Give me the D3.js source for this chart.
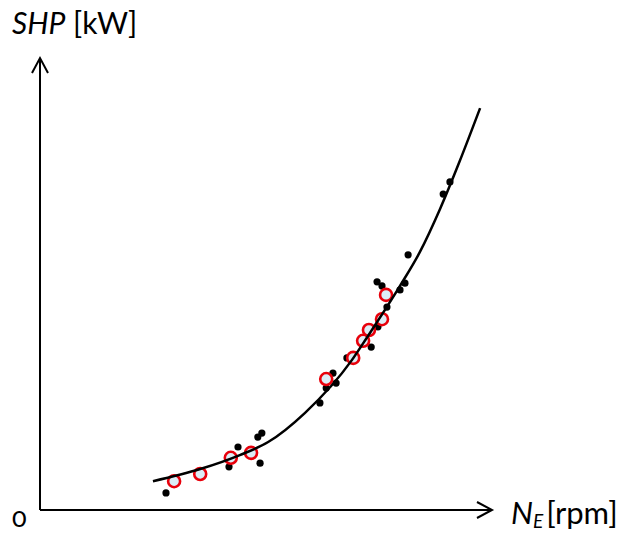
<!DOCTYPE html>
<html>
<head>
<meta charset="utf-8">
<script src="https://cdn.jsdelivr.net/npm/d3@7"></script>
<style>
  body { margin: 0; background: #fff; }
  text { font-family: Lato, "Open Sans", sans-serif; fill: #000; }
</style>
</head>
<body>
<div id="chart"></div>
<script>
// measured points (black dots), values on a 0-100 scale
const measuredX = [28.0, 42.0, 44.0, 48.4, 49.3, 48.9, 62.2, 63.6, 65.1, 65.8, 68.2,
                   73.6, 75.1, 77.1, 74.9, 76.0, 80.0, 81.1, 81.8, 89.6, 91.1];
const measuredY = [3.8, 9.6, 14.0, 16.2, 17.1, 10.4, 23.8, 27.1, 30.4, 28.2, 33.8,
                   36.2, 40.7, 45.1, 50.7, 49.8, 48.9, 50.4, 56.7, 70.2, 72.9];

// highlighted points (red circles)
const highlightX = [29.8, 35.6, 42.4, 46.9, 63.6, 69.6, 71.8, 73.1, 76.0, 76.9];
const highlightY = [6.4, 8.0, 11.6, 12.7, 29.1, 33.8, 37.6, 40.0, 42.4, 47.8];

// fitted curve
const curveX = [25.1, 35.6, 44.4, 50.7, 58.9, 69.3, 72.7, 80.0, 84.4, 88.9, 93.3, 97.8];
const curveY = [6.4, 9.1, 12.2, 15.1, 21.6, 33.3, 38.4, 49.8, 57.3, 66.9, 77.6, 89.3];

const width = 623;
const height = 534;

const svg = d3.select("#chart")
              .append("svg")
              .attr("width", width)
              .attr("height", height);

const x = d3.scaleLinear().domain([0, 100]).range([40, 490]);
const y = d3.scaleLinear().domain([0, 100]).range([510, 60]);

// axes with open arrow heads
const axes = svg.append("g")
                .attr("fill", "none")
                .attr("stroke", "#000")
                .attr("stroke-width", 2);

axes.append("line")
    .attr("x1", x(0)).attr("y1", y(0))
    .attr("x2", x(0)).attr("y2", y(100) - 2);
axes.append("path")
    .attr("d", `M${x(0) - 8},${y(100) + 13}L${x(0)},${y(100) - 2}L${x(0) + 8},${y(100) + 13}`);

axes.append("line")
    .attr("x1", x(0)).attr("y1", y(0))
    .attr("x2", x(100) + 2).attr("y2", y(0));
axes.append("path")
    .attr("d", `M${x(100) - 13},${y(0) - 8}L${x(100) + 2},${y(0)}L${x(100) - 13},${y(0) + 8}`);

// black dots
svg.append("g")
   .selectAll("circle")
   .data(measuredX.map((d, i) => [d, measuredY[i]]))
   .enter()
   .append("circle")
   .attr("cx", d => x(d[0]))
   .attr("cy", d => y(d[1]))
   .attr("r", 3.6)
   .attr("fill", "#000");

// red circles
svg.append("g")
   .selectAll("circle")
   .data(highlightX.map((d, i) => [d, highlightY[i]]))
   .enter()
   .append("circle")
   .attr("cx", d => x(d[0]))
   .attr("cy", d => y(d[1]))
   .attr("r", 6)
   .attr("fill", "#dcedf6")
   .attr("stroke", "#e8000b")
   .attr("stroke-width", 2.6);

// fitted curve
const line = d3.line()
               .x(d => x(d[0]))
               .y(d => y(d[1]))
               .curve(d3.curveMonotoneX);

svg.append("path")
   .datum(curveX.map((d, i) => [d, curveY[i]]))
   .attr("d", line)
   .attr("fill", "none")
   .attr("stroke", "#000")
   .attr("stroke-width", 2.5);

// labels
const yLabel = svg.append("text")
                  .attr("x", 12)
                  .attr("y", 34)
                  .style("font-size", "30px");
yLabel.append("tspan").style("font-style", "italic").text("SHP");
yLabel.append("tspan").text(" [kW]");

const xLabel = svg.append("text")
                  .attr("x", 511)
                  .attr("y", 524)
                  .style("font-size", "31px");
xLabel.append("tspan").style("font-style", "italic").text("N");
xLabel.append("tspan").style("font-style", "italic").style("font-size", "19px")
      .attr("dy", 4).text("E");
xLabel.append("tspan").attr("dy", -4).attr("dx", 3).text("[rpm]");

svg.append("text")
   .attr("x", 12)
   .attr("y", 527)
   .style("font-size", "27px")
   .style("font-variant-numeric", "oldstyle-nums")
   .text("0");
</script>
</body>
</html>
